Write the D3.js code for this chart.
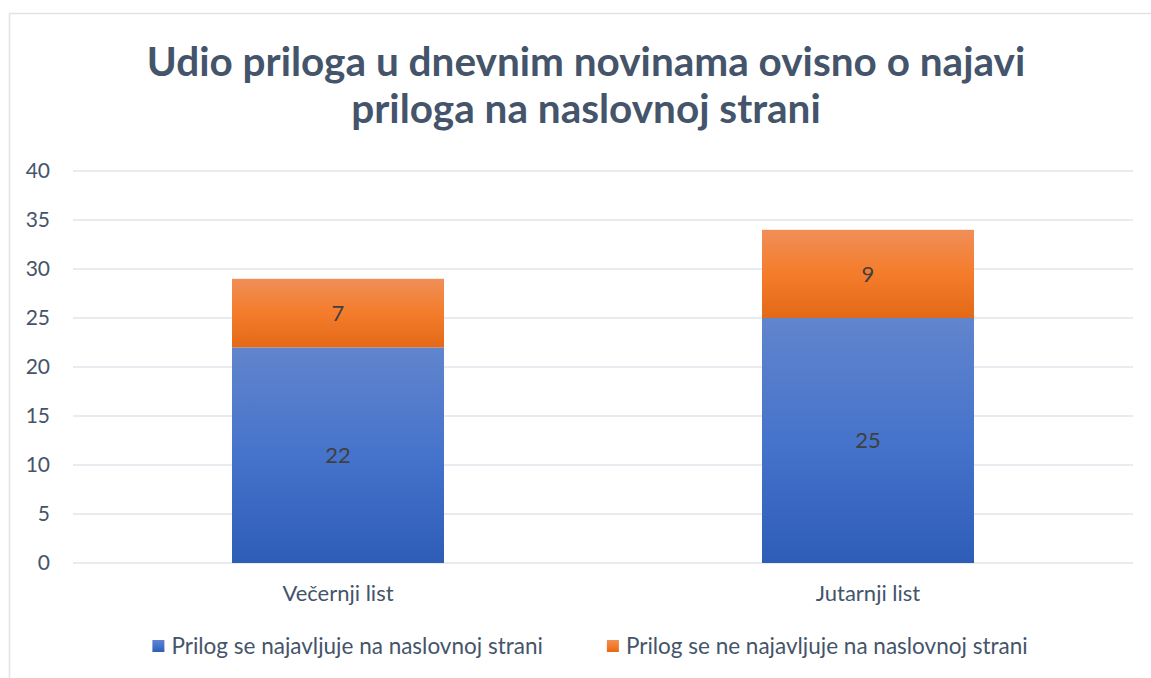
<!DOCTYPE html>
<html>
<head>
<meta charset="utf-8">
<script src="https://cdn.jsdelivr.net/npm/d3@7"></script>
<style>
  body { margin: 0; background: #fff; }
  svg { display: block; }
</style>
</head>
<body>
<svg></svg>
<script>
// chart data
var categories = ["Večernji list", "Jutarnji list"];
var seriesNames = ["Prilog se najavljuje na naslovnoj strani", "Prilog se ne najavljuje na naslovnoj strani"];
var najavljuje = [22, 25];
var neNajavljuje = [7, 9];
var yTicks = [0, 5, 10, 15, 20, 25, 30, 35, 40];
var titleLines = ["Udio priloga u dnevnim novinama ovisno o najavi", "priloga na naslovnoj strani"];

var width = 1151, height = 678;
var svg = d3.select("svg").attr("width", width).attr("height", height);
var font = "Lato, 'Open Sans', sans-serif";

// frame of the chart area
svg.append("path")
    .attr("d", "M9.5,678 V13.5 H1151")
    .attr("fill", "none")
    .attr("stroke", "#dfe3ea")
    .attr("stroke-width", 1.5);

// gradients like the office fill
var defs = svg.append("defs");
function grad(id, stops) {
    var g = defs.append("linearGradient").attr("id", id)
        .attr("x1", 0).attr("y1", 0).attr("x2", 0).attr("y2", 1);
    stops.forEach(function (s) {
        g.append("stop").attr("offset", s[0]).attr("stop-color", s[1]);
    });
}
grad("gBlue", [[0, "#6185cd"], [0.5, "#4673cb"], [1, "#2e5db8"]]);
grad("gOrange", [[0, "#f08f58"], [0.5, "#f47c2a"], [1, "#e36917"]]);

var margin = { left: 73, right: 18, top: 171, bottom: 115 };
var x = d3.scaleBand()
    .domain(categories)
    .range([margin.left, width - margin.right])
    .paddingInner(0.6)
    .paddingOuter(0.3);
var y = d3.scaleLinear()
    .domain([0, 40])
    .range([height - margin.bottom, margin.top]);

// gridlines
svg.append("g")
    .selectAll("line")
    .data(yTicks)
    .enter().append("line")
    .attr("x1", margin.left)
    .attr("x2", width - margin.right)
    .attr("y1", function (d) { return y(d); })
    .attr("y2", function (d) { return y(d); })
    .attr("stroke", "#e1e4ea")
    .attr("stroke-width", 1.5);

// y labels
svg.append("g")
    .selectAll("text")
    .data(yTicks)
    .enter().append("text")
    .attr("x", 50)
    .attr("y", function (d) { return y(d); })
    .attr("dy", "0.35em")
    .attr("text-anchor", "end")
    .attr("font-family", font)
    .attr("font-size", 21)
    .attr("fill", "#44546a")
    .text(function (d) { return d; });

// stacked bars
var stackData = categories.map(function (c, i) {
    return { cat: c, a: najavljuje[i], b: neNajavljuje[i] };
});
var stack = d3.stack().keys(["a", "b"])(stackData);
var fills = ["url(#gBlue)", "url(#gOrange)"];

var layer = svg.append("g")
    .selectAll("g")
    .data(stack)
    .enter().append("g")
    .attr("fill", function (d, i) { return fills[i]; });

layer.selectAll("rect")
    .data(function (d) { return d; })
    .enter().append("rect")
    .attr("x", function (d) { return x(d.data.cat); })
    .attr("width", x.bandwidth())
    .attr("y", function (d) { return y(d[1]); })
    .attr("height", function (d) { return y(d[0]) - y(d[1]); });

layer.selectAll("text")
    .data(function (d) { return d; })
    .enter().append("text")
    .attr("x", function (d) { return x(d.data.cat) + x.bandwidth() / 2; })
    .attr("y", function (d) { return (y(d[0]) + y(d[1])) / 2; })
    .attr("dy", "0.35em")
    .attr("text-anchor", "middle")
    .attr("font-family", font)
    .attr("font-size", 22)
    .attr("fill", "#404040")
    .text(function (d) { return d[1] - d[0]; });

// category labels
svg.append("g")
    .selectAll("text")
    .data(categories)
    .enter().append("text")
    .attr("x", function (d) { return x(d) + x.bandwidth() / 2; })
    .attr("y", 601)
    .attr("text-anchor", "middle")
    .attr("font-family", font)
    .attr("font-size", 22)
    .attr("fill", "#44546a")
    .text(function (d) { return d; });

// title
svg.append("text")
    .attr("text-anchor", "middle")
    .attr("font-family", font)
    .attr("font-weight", "bold")
    .attr("font-size", 40.5)
    .attr("fill", "#44546a")
    .selectAll("tspan")
    .data(titleLines)
    .enter().append("tspan")
    .attr("x", 586)
    .attr("y", function (d, i) { return 76 + i * 47; })
    .text(function (d) { return d; });

// legend
var legend = svg.append("g");
var items = legend.selectAll("g")
    .data(seriesNames)
    .enter().append("g");
items.append("rect")
    .attr("width", 12).attr("height", 12)
    .attr("y", 640)
    .attr("fill", function (d, i) { return fills[i]; });
items.append("text")
    .attr("x", 19)
    .attr("y", 654)
    .attr("font-family", font)
    .attr("font-size", 22.5)
    .attr("fill", "#44546a")
    .text(function (d) { return d; });
var gap = 64, offs = [], total = 0;
items.each(function () {
    var w = d3.select(this).select("text").node().getComputedTextLength() + 19;
    offs.push(total);
    total += w + gap;
});
total -= gap;
var start = 590 - total / 2;
items.attr("transform", function (d, i) { return "translate(" + (start + offs[i]) + ",0)"; });
</script>
</body>
</html>
